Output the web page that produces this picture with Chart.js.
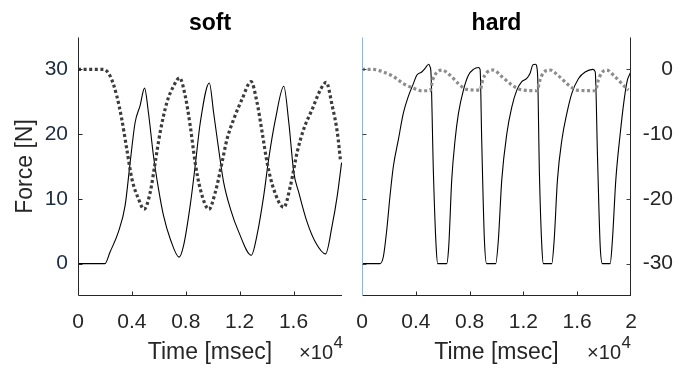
<!DOCTYPE html>
<html><head><meta charset="utf-8">
<script src="https://cdn.jsdelivr.net/npm/chart.js@4.4.0/dist/chart.umd.min.js"></script>
<style>
html,body{margin:0;padding:0;background:#fff;}
#wrap{position:relative;width:694px;height:385px;overflow:hidden;background:#fff;}
canvas{position:absolute;top:0;}
#c1{left:0;width:350px;height:385px;}
#c2{left:350px;width:344px;height:385px;}
</style></head><body>
<div id="wrap"><canvas id="c1" width="350" height="385"></canvas><canvas id="c2" width="344" height="385"></canvas></div>
<script>
// ---------- DATA ----------
const panelTitles = ['soft', 'hard'];
const xTickValues = [0, 4000, 8000, 12000, 16000, 20000];
const xTickLabels = ['0', '0.4', '0.8', '1.2', '1.6', '2'];
const softXMax = 19600;
const hardXMax = 20000;
const softYTicks = [0, 10, 20, 30];
const softYTickLabels = ['0', '10', '20', '30'];
const hardYTicks = [-30, -20, -10, 0];
const hardYTickLabels = ['-30', '-20', '-10', '0'];

// soft: solid line (force)
const softForceT = [0, 2000, 2380, 3000, 3500, 3870, 4240, 4610, 4940, 5230, 5600, 5980, 6350, 6850, 7510, 7840, 8330, 8700, 9080, 9750, 10070, 10440, 10810, 11310, 11930, 12870, 13290, 13790, 14160, 14660, 15280, 15650, 16020, 16390, 17010, 17630, 18380, 18870, 19250, 19570];
const softForceV = [0, 0, 1.8, 4.9, 9, 15.6, 21.8, 24.4, 27.1, 23.3, 16.7, 11.5, 7.4, 3.8, 1.0, 2.8, 9, 15.1, 21.8, 27.9, 23.3, 17.7, 12.6, 8.5, 4.9, 1.3, 4.4, 10.5, 16.2, 22.3, 27.4, 21.8, 14.1, 11.0, 6.4, 3.3, 1.5, 5.9, 10.5, 15.6];
// soft: dotted line
const softDotT = [0, 1880, 2380, 2880, 3250, 3620, 4000, 4490, 4910, 5360, 5730, 6100, 6600, 7090, 7540, 7960, 8330, 8700, 9080, 9720, 10190, 10690, 11060, 11560, 12180, 12850, 13290, 13670, 14040, 14530, 15280, 15770, 16270, 16760, 17380, 18010, 18430, 18870, 19250, 19490];
const softDotV = [30, 30, 29.0, 25.9, 22.3, 17.7, 13.1, 10, 8.4, 11.0, 15.6, 20.3, 24.9, 27.4, 28.7, 25.9, 21.3, 15.6, 11.5, 8.4, 11.0, 15.6, 19.2, 22.3, 25.4, 28.1, 24.9, 20.3, 15.6, 11.5, 8.7, 12.0, 17.2, 20.8, 23.8, 26.9, 28.0, 24.4, 20.3, 15.9];

// hard: solid line (force)
const hardForceT = [0, 1340, 1590, 1840, 2080, 2330, 2700, 3070, 3440, 3820, 4070, 4440, 4690, 4810, 4960, 5060, 5130, 5310, 5510, 5630, 6300, 6450, 6670, 6920, 7170, 7540, 7910, 8280, 8650, 8780, 8900, 9100, 9270, 9940, 10140, 10390, 10770, 11140, 11510, 11880, 12250, 12500, 12700, 12900, 13050, 13190, 13370, 13490, 14110, 14290, 14530, 14860, 15230, 15600, 16100, 16590, 17170, 17340, 17510, 17710, 17880, 18450, 18620, 18870, 19200, 19490, 19740, 19940, 20000];
const hardForceV = [-30, -30, -28.9, -24.8, -19.6, -15.0, -10.9, -6.8, -4.2, -2.2, -0.9, -0.4, 0.15, 0.5, 0.8, 0.4, -0.6, -16, -27.3, -30, -30, -27.3, -17.1, -10.9, -6.8, -3.2, -0.9, 0, 0.3, 0, -10.9, -26.3, -30, -30, -26.3, -17.1, -9.9, -5.8, -3.2, -1.9, -1.4, -0.6, 0.7, 0.8, -0.6, -16, -27.3, -30, -30, -26.3, -17.1, -10.9, -6.8, -3.7, -1.4, -0.4, 0, -0.4, -13.5, -27.3, -30, -30, -26.3, -17.1, -9.9, -4.7, -1.6, -0.6, -0.2];
// hard: dotted line
const hardDotT = [0, 800, 1590, 2330, 3070, 3820, 4440, 5060, 5260, 5510, 5930, 6550, 7170, 7790, 8780, 8980, 9280, 9770, 10390, 11140, 11760, 13000, 13240, 13490, 13990, 14610, 15350, 15970, 17340, 17580, 17830, 18200, 18700, 19320, 19810];
const hardDotV = [0, 0, -0.4, -1.1, -2.2, -2.9, -3.3, -3.3, -1.6, -0.6, -0.1, -0.9, -2.2, -3.1, -3.2, -1.6, -0.5, -0.1, -1.1, -2.4, -3.1, -3.3, -1.6, -0.5, -0.1, -1.0, -2.4, -3.2, -3.3, -1.6, -0.5, -0.1, -0.9, -2.2, -3.2];

// ---------- RENDERING ----------
const FONT = "'Liberation Sans', Arial, Helvetica, sans-serif";
const pts = (T, V) => T.map((t, i) => ({x: t, y: V[i]}));

const axesPlugin = {
  id: 'matlabAxes',
  afterDatasetsDraw(chart, args, o) {
    const {ctx, chartArea: a} = chart;
    const xs = chart.scales.x, ys = chart.scales.y;
    const L = Math.round(a.left) + 0.5, R = Math.round(a.right) - 0.5;
    const T = Math.round(a.top) + 0.5, B = Math.round(a.bottom) - 0.5;
    const seg = (x1, y1, x2, y2, c) => { ctx.strokeStyle = c; ctx.beginPath(); ctx.moveTo(x1, y1); ctx.lineTo(x2, y2); ctx.stroke(); };
    ctx.save();
    ctx.lineWidth = 1;
    seg(L, B, R + 0.5, B, o.bottomColor);
    xs.ticks.forEach(t => { const px = Math.round(xs.getPixelForValue(t.value)) + 0.5; if (px > L + 1 && px < R - 1) seg(px, B, px, B - o.tickLen, o.bottomColor); });
    if (o.leftColor) {
      seg(L, T, L, B, o.leftColor);
      ys.ticks.forEach(t => { const py = Math.round(ys.getPixelForValue(t.value)) + 0.5; seg(L, py, L + o.tickLen, py, o.tickColor); });
    }
    if (o.rightColor) {
      seg(R, T, R, B, o.rightColor);
      ys.ticks.forEach(t => { const py = Math.round(ys.getPixelForValue(t.value)) + 0.5; seg(R, py, R - o.tickLen, py, o.tickColor); });
    }
    ctx.restore();
  },
  afterDraw(chart, args, o) {
    const {ctx, chartArea: a} = chart;
    ctx.save();
    ctx.fillStyle = '#262626';
    ctx.textBaseline = 'alphabetic';
    ctx.textAlign = 'right';
    ctx.font = '17px ' + FONT;
    const xEnd = a.right + o.expShift;
    const w4 = ctx.measureText('4').width;
    ctx.fillText('4', xEnd, 348);
    ctx.font = '20px ' + FONT;
    ctx.fillText('\u00d710', xEnd - w4 - 0.5, 359);
    ctx.restore();
  }
};

function makeChart(canvasId, opt) {
  const xScale = {
    type: 'linear', min: 0, max: opt.xMax,
    grid: {display: false}, border: {display: false},
    afterBuildTicks: s => { s.ticks = xTickValues.filter(v => v <= s.max).map(v => ({value: v})); },
    afterFit: s => { s.height = 89; },
    ticks: {
      autoSkip: false, maxRotation: 0, padding: 6, color: '#262626',
      font: {family: FONT, size: 21},
      callback: v => xTickLabels[xTickValues.indexOf(v)]
    },
    title: {display: true, text: 'Time [msec]', color: '#262626', font: {family: FONT, size: 23}, padding: {top: 0, bottom: 19}}
  };
  const yScale = {
    type: 'linear', position: opt.yPos, min: opt.yMin, max: opt.yMax,
    grid: {display: false, drawTicks: false}, border: {display: false},
    afterBuildTicks: s => { s.ticks = opt.yTicks.map(v => ({value: v})); },
    afterFit: s => { s.width = opt.yWidth; },
    ticks: {
      autoSkip: false, padding: opt.yPad, color: opt.yTickColor, crossAlign: opt.yCross,
      font: {family: FONT, size: 21},
      callback: v => opt.yTickLabels[opt.yTicks.indexOf(v)]
    },
    title: opt.yTitle ? {display: true, text: opt.yTitle, color: '#262626', font: {family: FONT, size: 23}, padding: {top: 11.5, bottom: 0}} : {display: false}
  };
  return new Chart(document.getElementById(canvasId), {
    type: 'line',
    data: {
      datasets: [
        {data: pts(opt.dotT, opt.dotV), borderColor: opt.dotColor, borderWidth: 3.2, borderDash: [3, 2.6], borderCapStyle: 'butt', pointRadius: 0, cubicInterpolationMode: 'monotone', fill: false},
        {data: pts(opt.forceT, opt.forceV), borderColor: '#000000', borderWidth: 1.1, pointRadius: 0, cubicInterpolationMode: 'monotone', fill: false}
      ]
    },
    options: {
      responsive: false, animation: false, devicePixelRatio: 1,
      layout: {padding: opt.pad},
      scales: {x: xScale, y: yScale},
      plugins: {
        legend: {display: false}, tooltip: {enabled: false},
        title: {display: true, text: opt.title, fullSize: false, color: '#000000', font: {family: FONT, size: 23, weight: 'bold'}, padding: {top: 9.4, bottom: 0}},
        matlabAxes: opt.axes
      }
    },
    plugins: [axesPlugin]
  });
}

makeChart('c1', {
  title: panelTitles[0], xMax: softXMax,
  yPos: 'left', yMin: -5, yMax: 35, yTicks: softYTicks, yTickLabels: softYTickLabels,
  yWidth: 78, yPad: 10, yTickColor: '#1c2c40', yCross: 'near', yTitle: 'Force [N]',
  pad: {left: 0, right: 8, top: 0, bottom: 0},
  dotT: softDotT, dotV: softDotV, dotColor: '#3c3c3c',
  forceT: softForceT, forceV: softForceV,
  axes: {bottomColor: '#262626', leftColor: '#262626', rightColor: null, tickColor: '#262626', tickLen: 4, expShift: 1}
});

makeChart('c2', {
  title: panelTitles[1], xMax: hardXMax,
  yPos: 'right', yMin: -35, yMax: 5, yTicks: hardYTicks, yTickLabels: hardYTickLabels,
  yWidth: 42, yPad: 12, yTickColor: '#262626', yCross: 'far', yTitle: null,
  pad: {left: 12, right: 21, top: 0, bottom: 0},
  dotT: hardDotT, dotV: hardDotV, dotColor: '#8c8c8c',
  forceT: hardForceT, forceV: hardForceV,
  axes: {bottomColor: '#262626', leftColor: '#8fb4d6', rightColor: '#262626', tickColor: '#404040', tickLen: 4, expShift: 0}
});
</script></body></html>
